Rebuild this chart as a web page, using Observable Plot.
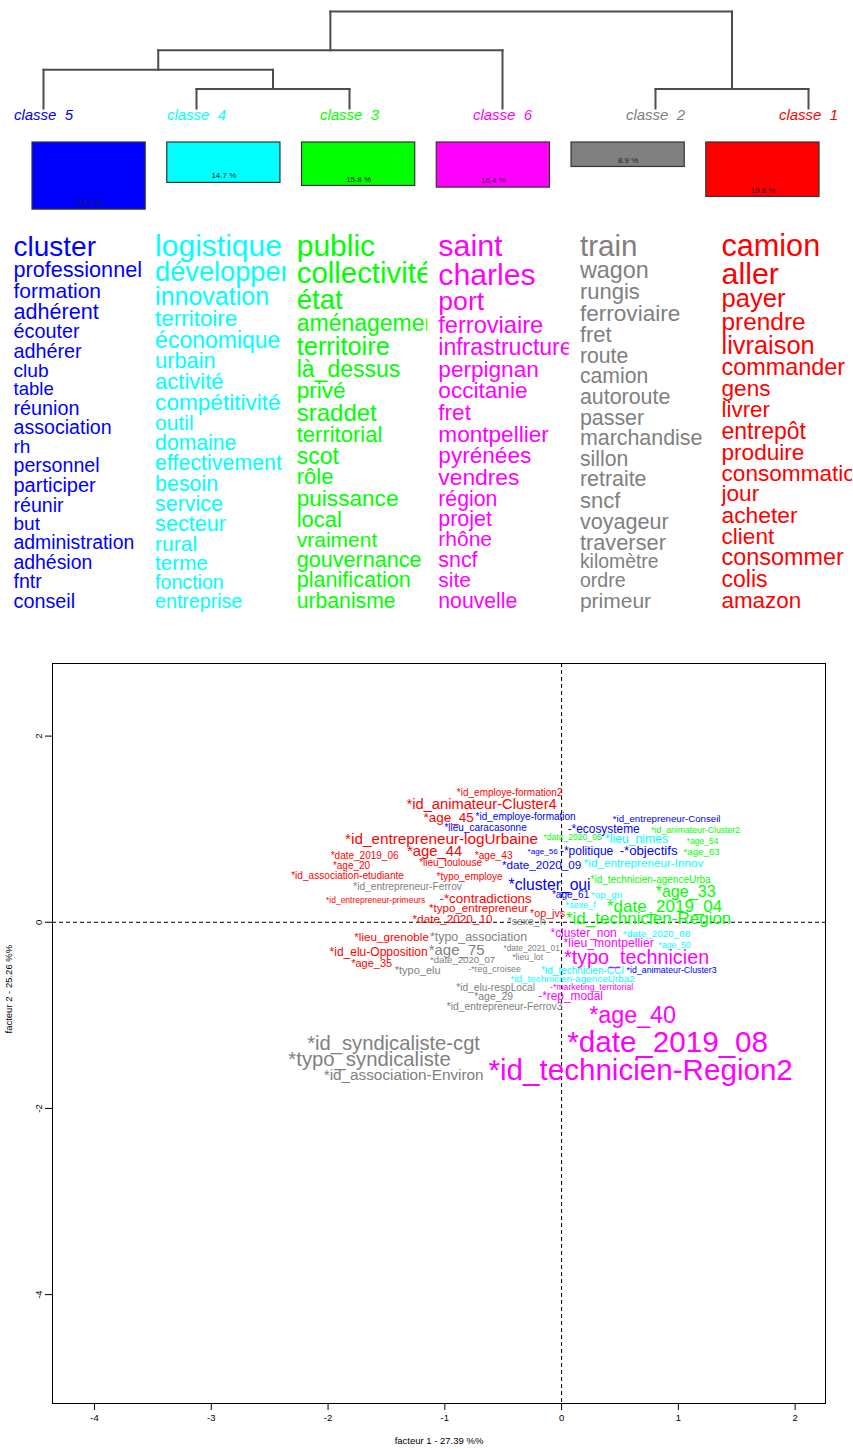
<!DOCTYPE html>
<html><head><meta charset="utf-8">
<script src="https://cdn.jsdelivr.net/npm/d3@7"></script>
<script src="https://cdn.jsdelivr.net/npm/@observablehq/plot@0.6"></script>
<style>
body{margin:0;background:#fff;}
#chart svg{display:block;}
</style></head><body><div id="chart"></div>
<script>
// ---------- DATA ----------
const leafOrder = ["5","4","3","6","2","1"];
const classColor = {"1":"#ff0000","2":"#808080","3":"#00ff00","4":"#00ffff","5":"#0000ff","6":"#ff00ff"};
const classPct = {"5":24.4,"4":14.7,"3":15.8,"6":16.4,"2":8.9,"1":19.8};
// dendrogram merges (children, height)
const merges = [
  {node:"a", left:"4", right:"3", height:1},
  {node:"b", left:"5", right:"a", height:2},
  {node:"c", left:"b", right:"6", height:3},
  {node:"d", left:"2", right:"1", height:1},
  {node:"root", left:"c", right:"d", height:5}
];
// words per class: [word, cex]
const words5 = [["cluster",1.40],["professionnel",1.08],["formation",1.05],["adhérent",1.08],["écouter",0.99],["adhérer",0.99],["club",0.96],["table",0.93],["réunion",0.99],["association",0.98],["rh",0.95],["personnel",0.98],["participer",1.0],["réunir",0.98],["but",0.95],["administration",0.97],["adhésion",0.97],["fntr",0.98],["conseil",0.99]];
const words4 = [["logistique",1.5],["développer",1.36],["innovation",1.25],["territoire",1.12],["économique",1.15],["urbain",1.09],["activité",1.1],["compétitivité",1.13],["outil",1.05],["domaine",1.06],["effectivement",1.07],["besoin",1.07],["service",1.07],["secteur",1.08],["rural",1.05],["terme",1.03],["fonction",0.98],["entreprise",0.98]];
const words3 = [["public",1.5],["collectivité",1.47],["état",1.38],["aménagement",1.15],["territoire",1.27],["là_dessus",1.15],["privé",1.13],["sraddet",1.2],["territorial",1.1],["scot",1.15],["rôle",1.1],["puissance",1.13],["local",1.1],["vraiment",1.05],["gouvernance",1.08],["planification",1.08],["urbanisme",1.06]];
const words6 = [["saint",1.52],["charles",1.51],["port",1.33],["ferroviaire",1.18],["infrastructure",1.15],["perpignan",1.13],["occitanie",1.13],["fret",1.13],["montpellier",1.13],["pyrénées",1.13],["vendres",1.14],["région",1.06],["projet",1.07],["rhône",1.05],["sncf",1.07],["site",1.05],["nouvelle",1.06]];
const words2 = [["train",1.48],["wagon",1.17],["rungis",1.1],["ferroviaire",1.13],["fret",1.1],["route",1.06],["camion",1.06],["autoroute",1.07],["passer",1.07],["marchandise",1.07],["sillon",1.06],["retraite",1.07],["sncf",1.1],["voyageur",1.08],["traverser",1.09],["kilomètre",0.97],["ordre",0.98],["primeur",1.05]];
const words1 = [["camion",1.53],["aller",1.52],["payer",1.28],["prendre",1.22],["livraison",1.27],["commander",1.17],["gens",1.13],["livrer",1.12],["entrepôt",1.15],["produire",1.13],["consommation",1.13],["jour",1.13],["acheter",1.14],["client",1.13],["consommer",1.17],["colis",1.15],["amazon",1.12]];

// factorial analysis: [label, facteur1, facteur2, cex]
const pts1 = [["*id_employe-formation2",-0.445,1.387,1.0],["*id_animateur-Cluster4",-0.685,1.269,1.47],["*age_45",-0.968,1.129,1.35],["*id_entrepreneur-logUrbaine",-1.028,0.892,1.53],["*age_44",-1.088,0.763,1.48],["*age_43",-0.582,0.72,1.02],["*date_2019_06",-1.687,0.71,1.0],["*age_20",-1.799,0.602,1.0],["*lieu_toulouse",-0.951,0.634,1.0],["*id_association-etudiante",-1.833,0.495,1.01],["*typo_employe",-0.788,0.484,1.0],["-*contradictions",-0.651,0.258,1.34],["*id_entrepreneur-primeurs",-1.593,0.237,0.85],["*typo_entrepreneur",-0.711,0.151,1.16],["*op_jvs",-0.12,0.097,1.07],["*date_2020_10",-0.934,0.032,1.18],["*lieu_grenoble",-1.456,-0.161,1.17],["*id_elu-Opposition",-1.567,-0.323,1.2],["*age_35",-1.627,-0.441,1.1]];
const pts2 = [["*id_entrepreneur-Ferrov",-1.319,0.387,1.02],["*sexe_h",-0.3,0.011,1.05],["*typo_association",-0.711,-0.161,1.24],["*age_75",-0.899,-0.301,1.5],["*date_2021_01",-0.257,-0.28,0.83],["*date_2020_07",-0.848,-0.409,0.96],["*lieu_lot",-0.291,-0.376,0.87],["*typo_elu",-1.233,-0.516,1.1],["-*reg_croisee",-0.574,-0.505,0.89],["*id_elu-respLocal",-0.565,-0.699,1.02],["*age_29",-0.582,-0.796,1.04],["*id_entrepreneur-Ferrov3",-0.488,-0.903,1.03],["*id_syndicaliste-cgt",-1.439,-1.301,2.02],["*typo_syndicaliste",-1.645,-1.473,2.03],["*id_association-Environ",-1.353,-1.645,1.53]];
const pts3 = [["*date_2020_05",0.094,0.914,0.86],["*id_animateur-Cluster2",1.148,0.989,0.87],["*age_54",1.208,0.871,0.85],["*age_63",1.199,0.753,0.97],["*id_technicien-agenceUrba",0.762,0.452,1.0],["*age_33",1.062,0.323,1.61],["*date_2019_04",0.882,0.172,1.7],["*id_technicien-Region",0.745,0.043,1.7]];
const pts4 = [["*lieu_nimes",0.642,0.892,1.22],["*id_entrepreneur-Innov",0.702,0.634,1.17],["*op_gn",0.385,0.29,0.98],["*sexe_f",0.163,0.183,0.9],["*date_2020_08",0.814,-0.129,0.99],["*age_50",0.968,-0.247,0.86],["*id_technicien-CCI",0.18,-0.516,1.0],["*id_technicien-agenceUrba2",0.094,-0.613,0.99]];
const pts5 = [["*id_employe-formation",-0.308,1.129,1.0],["*lieu_caracasonne",-0.651,1.011,1.0],["-*ecosysteme",0.36,1.0,1.19],["*id_entrepreneur-Conseil",0.899,1.108,0.97],["*age_56",-0.163,0.763,0.81],["-*politique",0.214,0.763,1.2],["-*objectifs",0.745,0.763,1.32],["*date_2020_09",-0.171,0.613,1.17],["*cluster_oui",-0.103,0.398,1.57],["*age_61",0.077,0.29,1.0],["*id_animateur-Cluster3",0.942,-0.516,0.88]];
const pts6 = [["*cluster_non",0.188,-0.118,1.19],["*lieu_montpellier",0.403,-0.226,1.22],["*typo_technicien",0.642,-0.376,1.98],["-*marketing_territorial",0.257,-0.699,0.87],["-*rep_modal",0.077,-0.796,1.19],["*age_40",0.608,-1.0,2.33],["*date_2019_08",0.908,-1.29,2.96],["*id_technicien-Region2",0.677,-1.591,2.96]];

const xTicks = [-4,-3,-2,-1,0,1,2];
const yTicks = [-4,-2,0,2];
const xTitle = "facteur 1 - 27.39 %%";
const yTitle = "facteur 2 - 25.26 %%";

// ---------- BUILD ----------
const FONT = "'Liberation Sans', Arial, sans-serif";
const W = 853;

// dendrogram geometry from merges
const pos = {}, hgt = {};
leafOrder.forEach((c,i)=>{pos[c]=i; hgt[c]=0;});
const segs = [];
for (const m of merges) {
  const xl = pos[m.left], xr = pos[m.right];
  pos[m.node] = (xl+xr)/2; hgt[m.node] = m.height;
  segs.push({x1:xl,y1:m.height,x2:xr,y2:m.height});
  segs.push({x1:xl,y1:m.height,x2:xl,y2:hgt[m.left]});
  segs.push({x1:xr,y1:m.height,x2:xr,y2:hgt[m.right]});
}
const leaves = leafOrder.map((c,i)=>({cls:c,i}));

const plotA = Plot.plot({
  width: W, height: 130, margin: 0,
  style: {fontFamily: FONT, background: "white"},
  x: {domain:[0,5], range:[43,808], axis:null},
  y: {domain:[0,5], range:[108,11], axis:null},
  marks: [
    Plot.link(segs, {x1:"x1", y1:"y1", x2:"x2", y2:"y2", stroke:"#4d4d4d", strokeWidth:2, strokeLinecap:"square"}),
    Plot.text(leaves, {x:"i", y:()=>0, text:d=>"classe \u00a0"+d.cls, fill:d=>classColor[d.cls], fontStyle:"italic", fontSize:15, lineAnchor:"bottom", dy:11})
  ]
});

const bars = leafOrder.map(c=>({cls:c, pct:classPct[c]}));
const plotB = Plot.plot({
  width: W, height: 92, margin: 0,
  style: {fontFamily: FONT, background: "white"},
  x: {type:"band", domain:leafOrder, range:[32,819], paddingInner:0.16, paddingOuter:0, round:false, axis:null},
  y: {domain:[0,30], range:[12, 12+2.75*30], axis:null},
  marks: [
    Plot.barY(bars, {x:"cls", y1:()=>0, y2:"pct", fill:d=>classColor[d.cls], stroke:"#333", strokeWidth:1.2}),
    Plot.text(bars, {x:"cls", y:"pct", text:d=>d.pct.toFixed(1)+" %", dy:-7, fontSize:8, fill:"#222"})
  ]
});

const wordLists = {"5":words5,"4":words4,"3":words3,"6":words6,"2":words2,"1":words1};
const BASE = 20, TOP = 33, BOTTOM = 385;
const wordRows = [];
for (const c of leafOrder) {
  const list = wordLists[c];
  const fs = list.map(d=>d[1]*BASE);
  const total = d3.sum(fs.slice(1));
  let cum = 0;
  list.forEach((d,i)=>{
    if (i>0) cum += fs[i];
    wordRows.push({cls:c, word:d[0], fs:fs[i], b: TOP + (BOTTOM-TOP)*cum/total});
  });
}
const plotC = Plot.plot({
  width: W, height: 393, marginLeft: 13, marginRight: 1, marginTop: 0, marginBottom: 0,
  style: {fontFamily: FONT, background: "white"},
  fx: {domain:leafOrder, paddingInner:0.075, paddingOuter:0, round:false, axis:null},
  y: {domain:[0,393], range:[0,393], axis:null},
  marks: [
    Plot.text(wordRows, {fx:"cls", y:"b", text:"word", frameAnchor:"left", textAnchor:"start", lineAnchor:"bottom", fontSize:d=>d.fs, fill:d=>classColor[d.cls], clip:true})
  ]
});

const ptsByClass = {"1":pts1,"2":pts2,"3":pts3,"4":pts4,"5":pts5,"6":pts6};
const points = [];
for (const c of ["1","2","3","4","5","6"]) for (const p of ptsByClass[c]) points.push({cls:c, label:p[0], x:p[1], y:p[2], cex:p[3]});

const plotD = Plot.plot({
  width: W, height: 834, marginTop: 48, marginBottom: 46, marginLeft: 52, marginRight: 28,
  style: {fontFamily: FONT, background: "white"},
  x: {domain:[-4.36,2.26]},
  y: {domain:[-5.17,2.78]},
  marks: [
    Plot.ruleX([0], {stroke:"#000", strokeDasharray:"4,3"}),
    Plot.ruleY([0], {stroke:"#000", strokeDasharray:"4,3"}),
    Plot.text(points, {x:"x", y:"y", text:"label", fontSize:d=>d.cex*10, fill:d=>classColor[d.cls]}),
    Plot.frame({stroke:"#000"}),
    Plot.axisX({ticks:xTicks, tickSize:7, tickPadding:4, tickFormat:d=>String(d), fontSize:9.5, label:null}),
    Plot.axisY({ticks:yTicks, tickSize:7, tickPadding:4, tickRotate:-90, tickFormat:d=>String(d), fontSize:9.5, label:null}),
    Plot.text([xTitle], {frameAnchor:"bottom", dy:40, fontSize:9.5, text:d=>d}),
    Plot.text([yTitle], {frameAnchor:"left", dx:-44, rotate:-90, fontSize:9.5, text:d=>d})
  ]
});

const root = document.getElementById("chart");
root.append(plotA, plotB, plotC, plotD);
</script>
</body></html>
